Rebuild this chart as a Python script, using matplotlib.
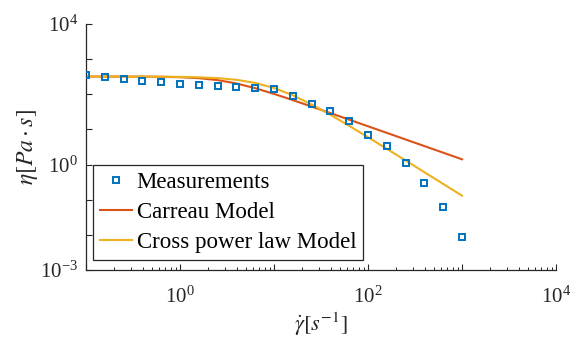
import matplotlib
matplotlib.use('Agg')
import matplotlib.pyplot as plt
from matplotlib.ticker import FixedLocator, NullFormatter

plt.rcParams['font.family'] = ['Liberation Serif', 'DejaVu Serif']
plt.rcParams['mathtext.fontset'] = 'stix'

# shear rate samples (1/s)
shear_rate = [0.1, 0.1585, 0.2512, 0.3981, 0.631, 1.0, 1.585, 2.512, 3.981, 6.31,
              10.0, 15.85, 25.12, 39.81, 63.1, 100.0, 158.5, 251.2, 398.1, 631.0, 1000.0]

# measured viscosity (Pa s)
measured = [346.7, 309.0, 269.2, 245.5, 218.8, 195.0, 182.0, 173.8, 158.5, 154.9,
            141.3, 87.1, 53.7, 33.1, 17.0, 7.08, 3.39, 1.12, 0.295, 0.063, 0.0089]

# fitted curves
carreau = [320.4, 320.2, 319.6, 318.2, 314.7, 306.2, 287.8, 253.6, 203.5, 149.2,
           102.7, 68.32, 44.79, 29.18, 18.96, 12.31, 7.987, 5.180, 3.361, 2.180, 1.414]
cross = [320.4, 320.2, 319.8, 318.9, 317.0, 313.0, 304.8, 288.4, 258.4, 211.0,
         151.1, 93.73, 51.51, 26.13, 12.66, 6.000, 2.808, 1.307, 0.6069, 0.2815, 0.1305]

x_ticks = [1e-1, 1e0, 1e1, 1e2, 1e3, 1e4]
x_labels = ['', r'$\mathregular{10^{0}}$', '', r'$\mathregular{10^{2}}$', '', r'$\mathregular{10^{4}}$']
y_ticks = [1e-3, 1e-2, 1e-1, 1e0, 1e1, 1e2, 1e3, 1e4]
y_labels = [r'$\mathregular{10^{-3}}$', '', '', r'$\mathregular{10^{0}}$', '', '', '', r'$\mathregular{10^{4}}$']

fig = plt.figure(figsize=(5.71, 3.44), dpi=100)
ax = fig.add_axes([0.1506, 0.2151, 0.8231, 0.7151])

ax.plot(shear_rate, measured, 's', ms=4.2, mfc='none', mec='#0072BD', mew=1.4,
        label='Measurements', zorder=3)
ax.plot(shear_rate, carreau, '-', color='#D95319', lw=1.5, label='Carreau Model')
ax.plot(shear_rate, cross, '-', color='#EDB120', lw=1.5, label='Cross power law Model')

ax.set_xscale('log')
ax.set_yscale('log')
ax.set_xlim(1e-1, 1e4)
ax.set_ylim(1e-3, 1e4)

ax.xaxis.set_major_locator(FixedLocator(x_ticks))
ax.set_xticklabels(x_labels)
minor = [m * 10.0 ** e for e in range(-1, 4) for m in range(2, 10)]
ax.xaxis.set_minor_locator(FixedLocator(minor))
ax.xaxis.set_minor_formatter(NullFormatter())
ax.yaxis.set_major_locator(FixedLocator(y_ticks))
ax.set_yticklabels(y_labels)
ax.yaxis.set_minor_locator(FixedLocator([]))

for s in ['top', 'right']:
    ax.spines[s].set_visible(False)
for s in ['left', 'bottom']:
    ax.spines[s].set_color('#262626')
    ax.spines[s].set_linewidth(0.9)
ax.tick_params(which='major', direction='in', length=4.5, width=0.8, colors='#262626',
               labelsize=15)
ax.tick_params(axis='x', which='major', pad=12)
ax.tick_params(axis='y', which='major', pad=6)
ax.tick_params(which='minor', direction='in', length=2.5, width=0.7, colors='#262626')

ax.set_xlabel(r'$\dot{\gamma}[s^{-1}]$', fontsize=16, color='#262626', labelpad=2)
ax.set_ylabel(r'$\eta[Pa \cdot s]$', fontsize=17, color='#262626', labelpad=0)

leg = ax.legend(loc='lower left', bbox_to_anchor=(0.015, 0.04), fontsize=16.5,
                handlelength=1.4, handletextpad=0.2, borderpad=0.3, labelspacing=0.4,
                fancybox=False, framealpha=1, borderaxespad=0)
leg.get_frame().set_edgecolor('#262626')
leg.get_frame().set_linewidth(0.9)

fig.savefig('out.png', dpi=100)
